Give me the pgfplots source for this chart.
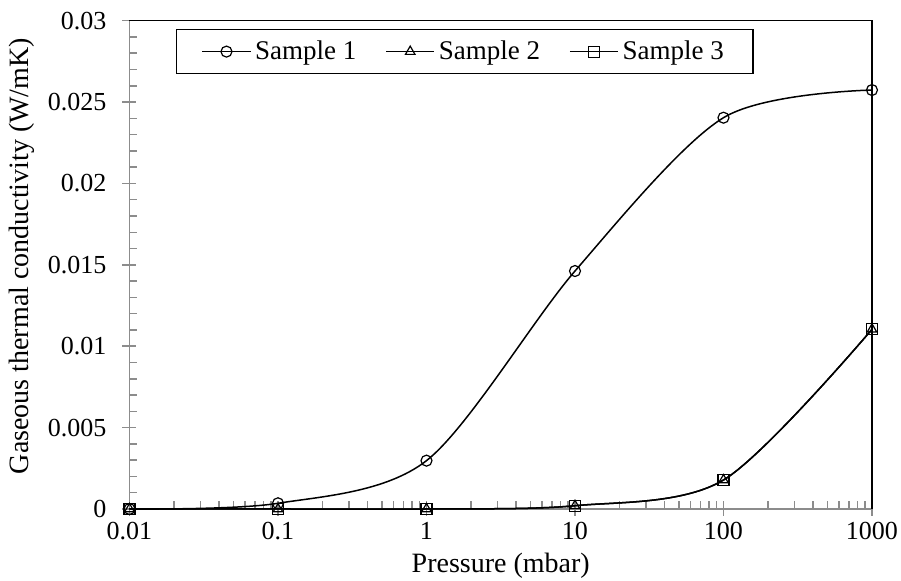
\documentclass[border=0pt]{standalone}
\usepackage{fontspec}
\setmainfont{Liberation Serif}
\usepackage{pgfplots}
\pgfplotsset{compat=1.18}
\usetikzlibrary{calc}
\definecolor{axgray}{RGB}{140,140,140}

\begin{document}
\begin{tikzpicture}
\begin{axis}[
  scale only axis,
  width=371.25pt, height=244.15pt,
  xmode=log,
  xmin=0.01, xmax=1000,
  ymin=0, ymax=0.03,
  xtick={0.01,0.1,1,10,100,1000},
  xticklabels={0.01,0.1,1,10,100,1000},
  ytick={0,0.005,0.01,0.015,0.02,0.025,0.03},
  yticklabels={0,0.005,0.01,0.015,0.02,0.025,0.03},
  scaled y ticks=false,
  minor y tick num=4,
  axis x line*=bottom, axis y line*=left,
  axis line style={axgray, line width=0.75pt, -},
  tick style={axgray, line width=0.75pt},
  tick align=inside,
  major tick length=7pt,
  minor tick length=4pt,
  every major x tick/.append style={yshift=-3.5pt},
  every major y tick/.append style={xshift=-3.5pt},
  tick label style={font=\fontsize{13}{15}\selectfont},
  yticklabel style={xshift=-8pt},
  xticklabel style={yshift=-3pt},
  label style={font=\fontsize{14}{16}\selectfont},
  xlabel={Pressure (mbar)},
  xlabel style={at={(axis description cs:0.5,0)}, anchor=base, yshift=-32pt},
  ylabel={Gaseous thermal conductivity (W/mK)},
  ylabel style={at={(axis description cs:-0.1448,0.518)}, anchor=center},
  clip=false,
  legend columns=3,
  legend image code/.code={\draw[mark repeat=2,mark phase=2] plot coordinates {(0pt,0pt) (12pt,0pt) (24pt,0pt)};},
  legend style={at={(0.0626,0.983)}, anchor=north west, draw=black, line width=0.75pt,
    font=\fontsize{13.5}{15}\selectfont, inner xsep=12.5pt, inner ysep=3.5pt,
    /tikz/every even column/.append style={column sep=12.5pt}},
]
\addplot[black, line width=0.75pt, smooth, mark=o, mark size=2.75pt, mark options={solid, line width=0.6pt}]
  coordinates {(0.01,0) (0.1,0.00035) (1,0.00297) (10,0.01462) (100,0.02404) (1000,0.02574)};
\addlegendentry{Sample 1}
\addplot[black, line width=0.75pt, smooth, mark=triangle, mark size=2.75pt, mark options={solid, line width=0.6pt}]
  coordinates {(0.01,0) (0.1,0) (1,0) (10,0.0002) (100,0.00178) (1000,0.01104)};
\addlegendentry{Sample 2}
\addplot[black, line width=0.75pt, smooth, mark=square, mark size=2.75pt, mark options={solid, line width=0.6pt}]
  coordinates {(0.01,0) (0.1,0) (1,0) (10,0.0002) (100,0.00178) (1000,0.01104)};
\addlegendentry{Sample 3}
\draw[black, line width=0.75pt] (rel axis cs:0,1) -- (rel axis cs:1,1) -- (rel axis cs:1,0);
\coordinate (sw) at (rel axis cs:0,0);
\coordinate (ne) at (rel axis cs:1,1);
\end{axis}
\pgfresetboundingbox
\path ($(sw)+(-64.75pt,-36pt)$) rectangle ($(ne)+(14.5pt,10.35pt)$);
\end{tikzpicture}
\end{document}
